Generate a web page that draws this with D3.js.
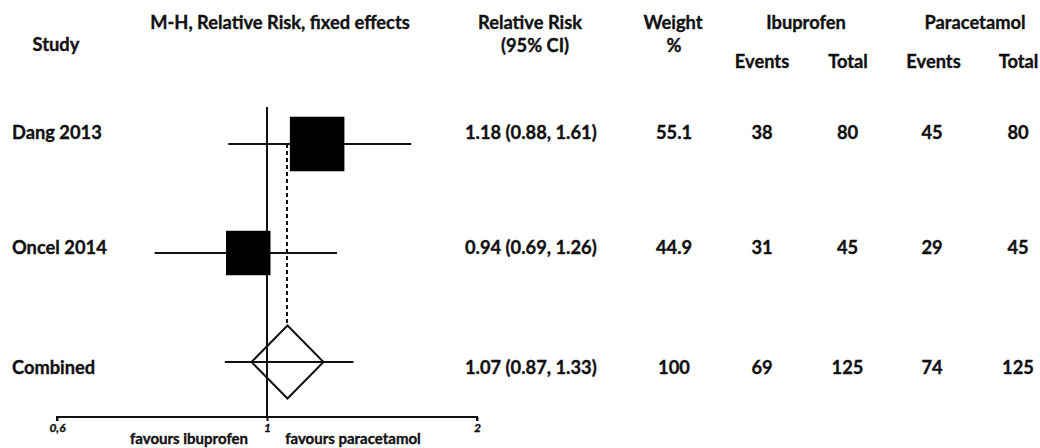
<!DOCTYPE html>
<html>
<head>
<meta charset="utf-8">
<script src="https://cdn.jsdelivr.net/npm/d3@7"></script>
<style>
  html, body { margin: 0; padding: 0; background: #fff; }
  svg { display: block; }
  text { font-family: Lato, "Open Sans", sans-serif; font-weight: 700; fill: #111; stroke: #111; stroke-width: 0.35px; }
</style>
</head>
<body>
<svg id="chart" width="1040" height="448"></svg>
<script>
// Forest plot: ibuprofen vs paracetamol, Mantel-Haenszel fixed-effects relative risk
const studies = ["Dang 2013", "Oncel 2014", "Combined"];
const rr = [1.18, 0.94, 1.07];
const ciLow = [0.88, 0.69, 0.87];
const ciHigh = [1.61, 1.26, 1.33];
const weights = [55.1, 44.9, 100];
const ibuEvents = [38, 31, 69];
const ibuTotal = [80, 45, 125];
const paraEvents = [45, 29, 74];
const paraTotal = [80, 45, 125];
const axisTicks = [0.5, 1, 2];
const axisTickLabels = ["0,6", "1", "2"];
const pooledIndex = 2;

const svg = d3.select("#chart");

// scales
const x = d3.scaleLog().domain([0.5, 2]).range([57, 477]);
const y = d3.scalePoint().domain(studies).range([144, 362]);
const boxSide = d3.scaleLinear().domain([0, 100]).range([0, 99]);
const labelBaseline = { "Dang 2013": 139, "Oncel 2014": 254, "Combined": 374 };

const FS = 18.3;
const INK = "#111";

// ---- header ----
const header = [
  { t: "Study", x: 56, y: 51 },
  { t: "M-H, Relative Risk, fixed effects", x: 280, y: 29 },
  { t: "Relative Risk", x: 530, y: 29 },
  { t: "(95% CI)", x: 535, y: 52 },
  { t: "Weight", x: 673, y: 29 },
  { t: "%", x: 674, y: 52 },
  { t: "Ibuprofen", x: 806, y: 29 },
  { t: "Paracetamol", x: 975, y: 29 },
  { t: "Events", x: 762, y: 68 },
  { t: "Total", x: 848, y: 68 },
  { t: "Events", x: 933.5, y: 68 },
  { t: "Total", x: 1018.5, y: 68 }
];
svg.append("g").selectAll("text").data(header).join("text")
  .attr("x", d => d.x).attr("y", d => d.y)
  .attr("text-anchor", "middle")
  .style("font-size", FS + "px")
  .text(d => d.t);

// ---- plot area ----
const plot = svg.append("g");

// line of no effect
plot.append("line")
  .attr("x1", x(1)).attr("x2", x(1))
  .attr("y1", 107).attr("y2", 417)
  .attr("stroke", INK).attr("stroke-width", 2);

// dashed line at pooled estimate
const px = Math.round(x(rr[pooledIndex]));
plot.append("line")
  .attr("x1", px).attr("x2", px)
  .attr("y1", y(studies[0])).attr("y2", y(studies[pooledIndex]) - 36)
  .attr("stroke", INK).attr("stroke-width", 2)
  .attr("stroke-dasharray", "4,3");

const rows = studies.map((s, i) => ({ s, i }));

// confidence intervals
plot.selectAll("line.ci").data(rows).join("line")
  .attr("class", "ci")
  .attr("x1", d => x(ciLow[d.i])).attr("x2", d => x(ciHigh[d.i]))
  .attr("y1", d => y(d.s)).attr("y2", d => y(d.s))
  .attr("stroke", INK).attr("stroke-width", 2);

// study boxes sized by weight
plot.selectAll("rect.box").data(rows.filter(d => d.i !== pooledIndex)).join("rect")
  .attr("class", "box")
  .attr("x", d => x(rr[d.i]) - boxSide(weights[d.i]) / 2)
  .attr("y", d => y(d.s) - boxSide(weights[d.i]) / 2)
  .attr("width", d => boxSide(weights[d.i]))
  .attr("height", d => boxSide(weights[d.i]))
  .attr("fill", "#000");

// pooled diamond
const dc = x(rr[pooledIndex]), dy = y(studies[pooledIndex]), dw = 36, dh = 36.5;
plot.append("path")
  .attr("d", `M${dc},${dy - dh}L${dc + dw},${dy}L${dc},${dy + dh}L${dc - dw},${dy}Z`)
  .attr("fill", "none").attr("stroke", INK).attr("stroke-width", 2);

// x axis
const axis = d3.axisBottom(x)
  .tickValues(axisTicks)
  .tickSize(4)
  .tickFormat((d, i) => axisTickLabels[i]);
const ag = svg.append("g").attr("transform", "translate(0,417)").call(axis);
ag.select(".domain").attr("stroke", INK).attr("stroke-width", 2)
  .attr("d", `M${x(0.5)},4V0H${x(2)}V4`);
ag.selectAll(".tick line").attr("stroke", INK).attr("stroke-width", 2);
ag.selectAll(".tick text")
  .attr("y", 6)
  .style("font-family", "Lato, sans-serif")
  .style("font-weight", 700)
  .style("font-style", "italic")
  .style("font-size", "12px")
  .attr("fill", INK);

svg.append("text").attr("x", 189).attr("y", 444).attr("text-anchor", "middle")
  .style("font-size", "15px").text("favours ibuprofen");
svg.append("text").attr("x", 353).attr("y", 444).attr("text-anchor", "middle")
  .style("font-size", "15px").text("favours paracetamol");

// ---- row text ----
const f2 = d3.format(".2f");
const rowText = svg.append("g");
rows.forEach(d => {
  const by = labelBaseline[d.s];
  rowText.append("text").attr("x", 12).attr("y", by)
    .style("font-size", FS + "px").text(d.s);
  rowText.append("text").attr("x", 465).attr("y", by)
    .style("font-size", FS + "px")
    .text(`${f2(rr[d.i])} (${f2(ciLow[d.i])}, ${f2(ciHigh[d.i])})`);
  const cols = [
    [674, weights[d.i]],
    [762, ibuEvents[d.i]],
    [847.5, ibuTotal[d.i]],
    [932, paraEvents[d.i]],
    [1018, paraTotal[d.i]]
  ];
  cols.forEach(([cx, v]) => {
    rowText.append("text").attr("x", cx).attr("y", by)
      .attr("text-anchor", "middle")
      .style("font-size", FS + "px").text(v);
  });
});
</script>
</body>
</html>
